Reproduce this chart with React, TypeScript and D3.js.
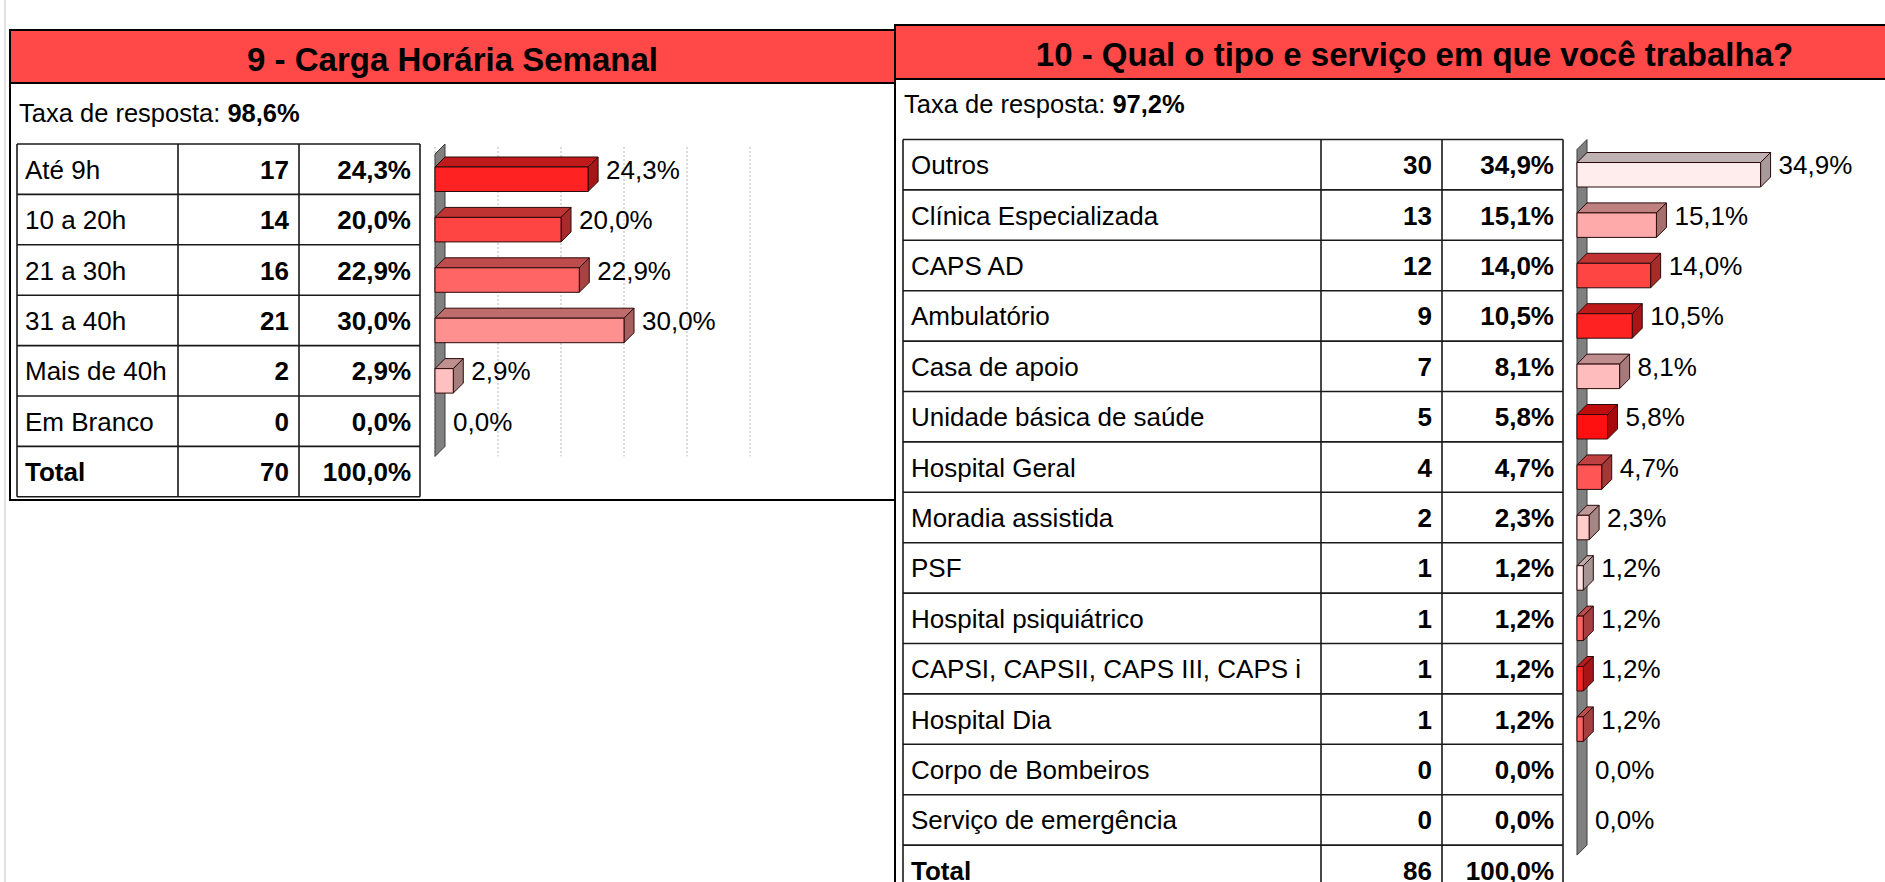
import * as d3 from "d3";

const FONT = "'Liberation Sans', Arial, Helvetica, sans-serif";

// Q9 - Carga horária semanal
const q9Title = "9 - Carga Horária Semanal";
const q9Rate = "98,6%";
const q9Categories = ["Até 9h", "10 a 20h", "21 a 30h", "31 a 40h", "Mais de 40h", "Em Branco"];
const q9Counts = [17, 14, 16, 21, 2, 0];
const q9Pcts = [24.3, 20.0, 22.9, 30.0, 2.9, 0.0];
const q9Total = 70;
const q9Colors = ["#ff2222", "#ff4444", "#ff6565", "#ff9090", "#ffc0c0", "#ffdddd"];
const q9Grid = [0, 10, 20, 30, 40, 50];

// Q10 - Tipo de serviço
const q10Title = "10 - Qual o tipo e serviço em que você trabalha?";
const q10Rate = "97,2%";
const q10Categories = [
  "Outros",
  "Clínica Especializada",
  "CAPS AD",
  "Ambulatório",
  "Casa de apoio",
  "Unidade básica de saúde",
  "Hospital Geral",
  "Moradia assistida",
  "PSF",
  "Hospital psiquiátrico",
  "CAPSI, CAPSII, CAPS III, CAPS i",
  "Hospital Dia",
  "Corpo de Bombeiros",
  "Serviço de emergência",
];
const q10Counts = [30, 13, 12, 9, 7, 5, 4, 2, 1, 1, 1, 1, 0, 0];
const q10Pcts = [34.9, 15.1, 14.0, 10.5, 8.1, 5.8, 4.7, 2.3, 1.2, 1.2, 1.2, 1.2, 0.0, 0.0];
const q10Total = 86;
const q10Colors = [
  "#ffeded", "#ffaaaa", "#ff4444", "#ff2222", "#ffbcbc", "#ff1010", "#ff5555",
  "#ffcccc", "#ffe2e2", "#ff6262", "#ff2222", "#ff6262", "#ffdddd", "#ffdddd",
];

const ROW_H = 50.4;
const DEPTH = 10;
const BAR_H = 24.5;

const fmtPct = (v: number) => v.toFixed(1).replace(".", ",") + "%";

function shade(c: string, k: number) {
  const rgb = d3.rgb(c);
  return d3.rgb(rgb.r * k, rgb.g * k, rgb.b * k).formatHex();
}

function Panel({ x, y, w, h, headerH, title, rate, rateY }: any) {
  return (
    <g>
      <rect x={x} y={y} width={w} height={h} fill="#fff" stroke="#000" strokeWidth={2} />
      <rect x={x} y={y} width={w} height={headerH} fill="#ff4848" stroke="#000" strokeWidth={2} />
      <text x={x + w / 2} y={y + 41} textAnchor="middle" fontFamily={FONT} fontSize={33} fontWeight="bold" fill="#000">
        {title}
      </text>
      <text x={x + 9} y={rateY} fontFamily={FONT} fontSize={25.5} fill="#000">
        Taxa de resposta: <tspan fontWeight="bold">{rate}</tspan>
      </text>
    </g>
  );
}

function Table({ cols, top, labels, counts, pcts, total }: any) {
  const rows = [
    ...labels.map((l: string, i: number) => ({ label: l, n: String(counts[i]), p: fmtPct(pcts[i]), bold: false })),
    { label: "Total", n: String(total), p: "100,0%", bold: true },
  ];
  const y = d3.scaleLinear().domain([0, rows.length]).range([top, top + rows.length * ROW_H]);
  return (
    <g fontFamily={FONT} fontSize={26} fill="#000">
      <rect x={cols[0]} y={top} width={cols[3] - cols[0]} height={rows.length * ROW_H} fill="#fff" />
      {d3.range(rows.length + 1).map((i) => (
        <line key={"h" + i} x1={cols[0]} x2={cols[3]} y1={y(i)} y2={y(i)} stroke="#1a1a1a" strokeWidth={1.6} />
      ))}
      {cols.map((c: number, i: number) => (
        <line key={"v" + i} x1={c} x2={c} y1={top} y2={y(rows.length)} stroke="#1a1a1a" strokeWidth={1.6} />
      ))}
      {rows.map((r: any, i: number) => {
        const by = y(i) + ROW_H / 2 + 9.5;
        return (
          <g key={i}>
            <text x={cols[0] + 8} y={by} fontWeight={r.bold ? "bold" : "normal"}>{r.label}</text>
            <text x={cols[2] - 10} y={by} textAnchor="end" fontWeight="bold">{r.n}</text>
            <text x={cols[3] - 9} y={by} textAnchor="end" fontWeight="bold">{r.p}</text>
          </g>
        );
      })}
    </g>
  );
}

function Bars3D({ categories, pcts, colors, top, xScale, grid }: any) {
  const yBand = d3.scaleBand<string>().domain(categories).range([top, top + categories.length * ROW_H]);
  const x0 = xScale(0);
  const t = top;
  const b = top + categories.length * ROW_H;
  return (
    <g>
      {grid &&
        grid.map((g: number) => (
          <line key={g} x1={xScale(g)} x2={xScale(g)} y1={t + 3} y2={b + DEPTH} stroke="#b8b8b8" strokeWidth={1} strokeDasharray="2,2" />
        ))}
      <polygon
        points={`${x0},${t + DEPTH} ${x0 + DEPTH},${t} ${x0 + DEPTH},${b} ${x0},${b + DEPTH}`}
        fill="#808080"
        stroke="#3c3c3c"
        strokeWidth={1}
      />
      {categories.map((c: string, i: number) => {
        const v = pcts[i];
        const yb = (yBand(c) as number) + 23;
        const x1 = xScale(v);
        const cy = (yBand(c) as number) + ROW_H / 2;
        return (
          <g key={c}>
            {v > 0 && (
              <g stroke="#2a0a0a" strokeWidth={1} strokeLinejoin="round">
                <polygon
                  points={`${x0},${yb} ${x0 + DEPTH},${yb - DEPTH} ${x1 + DEPTH},${yb - DEPTH} ${x1},${yb}`}
                  fill={shade(colors[i], 0.75)}
                />
                <polygon
                  points={`${x1},${yb} ${x1 + DEPTH},${yb - DEPTH} ${x1 + DEPTH},${yb + BAR_H - DEPTH} ${x1},${yb + BAR_H}`}
                  fill={shade(colors[i], 0.65)}
                />
                <rect x={x0} y={yb} width={x1 - x0} height={BAR_H} fill={colors[i]} />
              </g>
            )}
            <text x={x1 + DEPTH + 8} y={cy + 9.5} fontFamily={FONT} fontSize={26} fill="#000">
              {fmtPct(v)}
            </text>
          </g>
        );
      })}
    </g>
  );
}

export default function App() {
  const q9X = d3.scaleLinear().domain([0, 50]).range([435, 750]);
  const q10X = d3.scaleLinear().domain([0, 40]).range([1577, 1787.4]);

  return (
    <svg width={1885} height={882} style={{ position: "absolute", left: 0, top: 0, background: "#fff" }}>
      <rect x={0} y={0} width={1885} height={882} fill="#fff" />
      <line x1={5} x2={5} y1={0} y2={882} stroke="#d6d6d6" strokeWidth={1.5} />

      {/* Q9 */}
      <Panel x={10} y={30} w={885} h={470} headerH={53} title={q9Title} rate={q9Rate} rateY={122} />
      <Table cols={[17, 178, 299, 420]} top={144} labels={q9Categories} counts={q9Counts} pcts={q9Pcts} total={q9Total} />
      <Bars3D categories={q9Categories} pcts={q9Pcts} colors={q9Colors} top={144} xScale={q9X} grid={q9Grid} />

      {/* Q10 */}
      <Panel x={895} y={25} w={1039} h={900} headerH={54} title={q10Title} rate={q10Rate} rateY={113} />
      <Table cols={[903, 1321, 1442, 1563]} top={139.5} labels={q10Categories} counts={q10Counts} pcts={q10Pcts} total={q10Total} />
      <Bars3D categories={q10Categories} pcts={q10Pcts} colors={q10Colors} top={139.5} xScale={q10X} />
    </svg>
  );
}
